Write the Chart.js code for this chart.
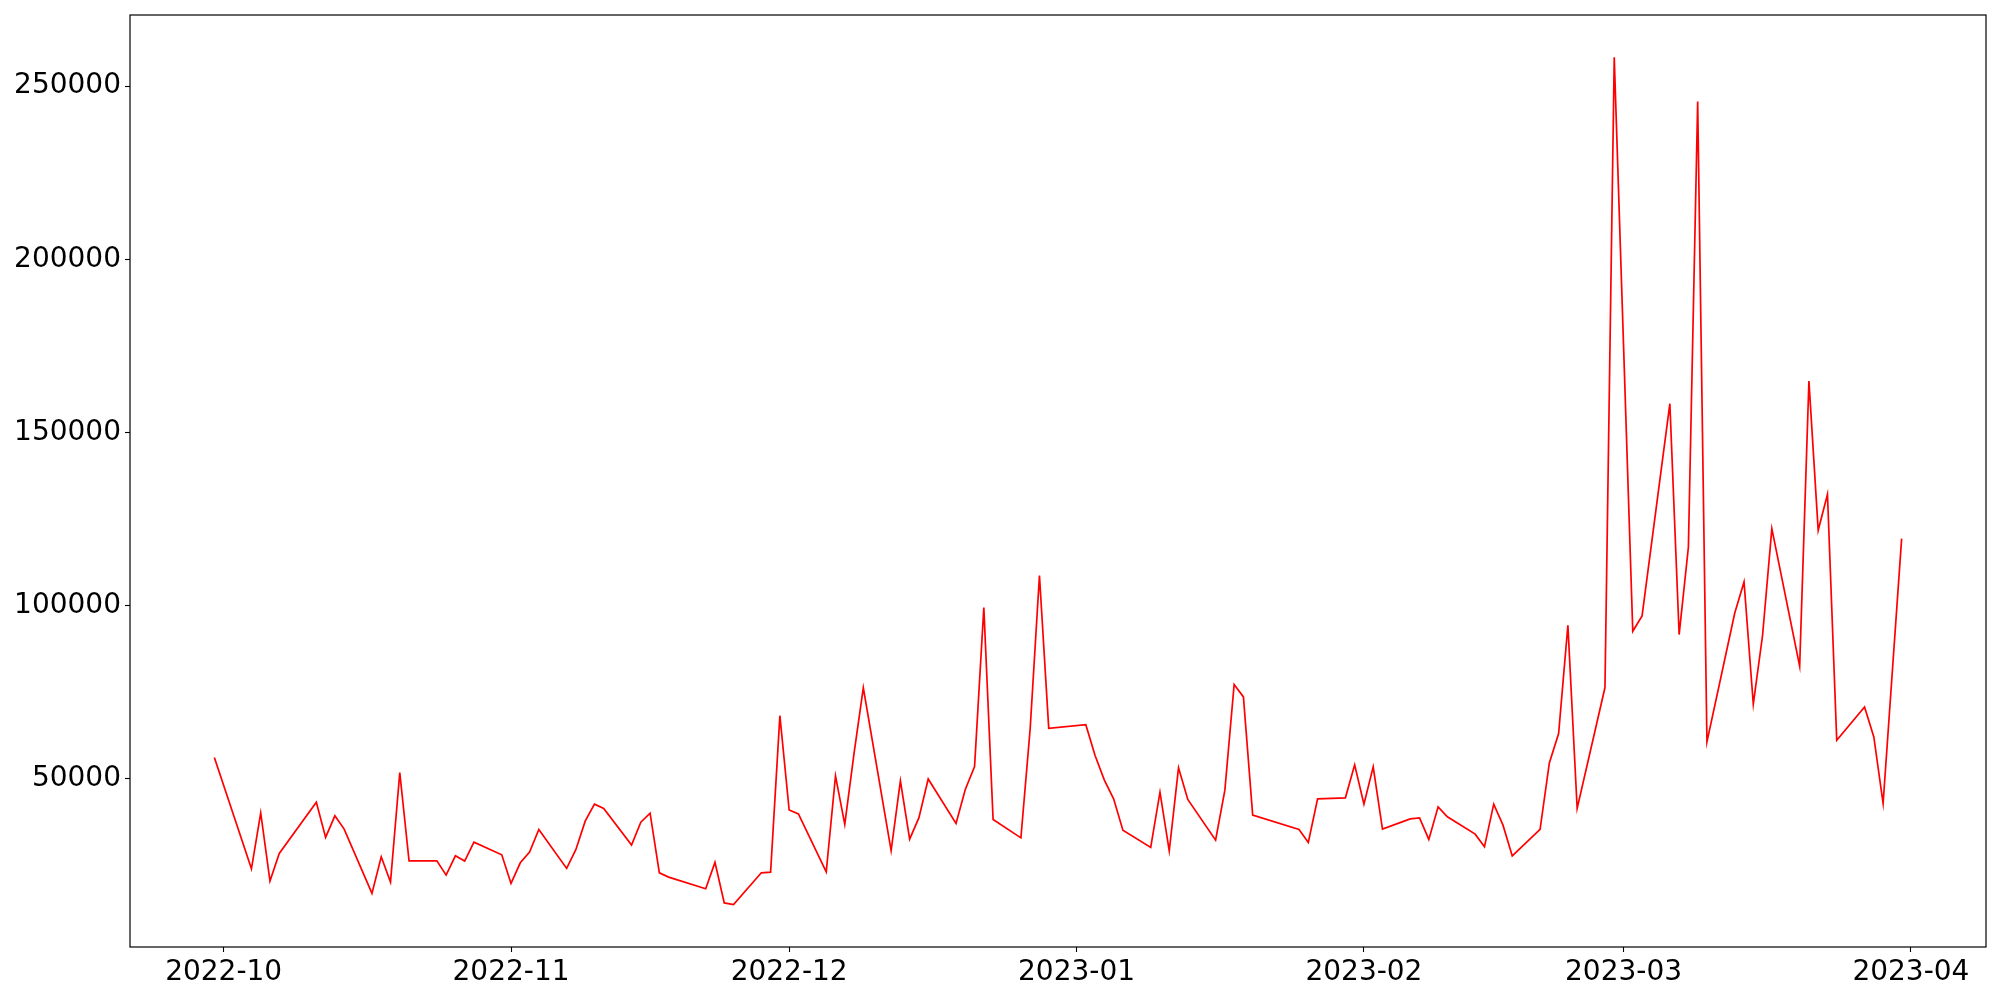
<!DOCTYPE html>
<html>
<head>
<meta charset="UTF-8" />
<script src="https://cdn.jsdelivr.net/npm/chart.js@4.4.1/dist/chart.umd.min.js"></script>
<style>
  html, body { margin: 0; padding: 0; background: #fff; }
  #wrap { width: 2000px; height: 1000px; position: relative; }
</style>
</head>
<body>
<div id="wrap"><canvas id="chart"></canvas></div>
<script>
// daily values (trading days only)
const dates = [
  "2022-09-30","2022-10-04","2022-10-05","2022-10-06","2022-10-07","2022-10-11","2022-10-12","2022-10-13","2022-10-14",
  "2022-10-17","2022-10-18","2022-10-19","2022-10-20","2022-10-21","2022-10-24","2022-10-25","2022-10-26","2022-10-27",
  "2022-10-28","2022-10-31","2022-11-01","2022-11-02","2022-11-03","2022-11-04","2022-11-07","2022-11-08","2022-11-09",
  "2022-11-10","2022-11-11","2022-11-14","2022-11-15","2022-11-16","2022-11-17","2022-11-18","2022-11-22","2022-11-23",
  "2022-11-24","2022-11-25","2022-11-28","2022-11-29","2022-11-30","2022-12-01","2022-12-02","2022-12-05","2022-12-06",
  "2022-12-07","2022-12-08","2022-12-09","2022-12-12","2022-12-13","2022-12-14","2022-12-15","2022-12-16","2022-12-19",
  "2022-12-20","2022-12-21","2022-12-22","2022-12-23","2022-12-26","2022-12-27","2022-12-28","2022-12-29","2023-01-02",
  "2023-01-03","2023-01-04","2023-01-05","2023-01-06","2023-01-09","2023-01-10","2023-01-11","2023-01-12","2023-01-13",
  "2023-01-16","2023-01-17","2023-01-18","2023-01-19","2023-01-20","2023-01-25","2023-01-26","2023-01-27","2023-01-30",
  "2023-01-31","2023-02-01","2023-02-02","2023-02-03","2023-02-06","2023-02-07","2023-02-08","2023-02-09","2023-02-10",
  "2023-02-13","2023-02-14","2023-02-15","2023-02-16","2023-02-17","2023-02-20","2023-02-21","2023-02-22","2023-02-23",
  "2023-02-24","2023-02-27","2023-02-28","2023-03-02","2023-03-03","2023-03-06","2023-03-07","2023-03-08","2023-03-09",
  "2023-03-10","2023-03-13","2023-03-14","2023-03-15","2023-03-16","2023-03-17","2023-03-20","2023-03-21","2023-03-22",
  "2023-03-23","2023-03-24","2023-03-27","2023-03-28","2023-03-29","2023-03-31"
];
const values = [
  56000, 23850, 40020, 20300, 28300, 43110, 32920, 39160, 35320,
  16750, 27320, 20010, 51690, 26160, 26160, 22030, 27610, 26080,
  31560, 27900, 19640, 25590, 28680, 35230, 23970, 29450, 37630,
  42540, 41290, 30700, 37340, 39940, 22700, 21450, 18080, 25700,
  14000, 13500, 22700, 22900, 68100, 40850, 39700, 22950, 50710,
  36700, 57180, 76150, 29100, 49270, 32430, 38640, 49800, 36960,
  46780, 53420, 99340, 38120, 32800, 64400, 108620, 64440, 65500,
  56600, 49470, 44070, 35030, 30030, 46000, 29050, 53020, 43890,
  32140, 46580, 77100, 73520, 39360, 35230, 31480, 44070, 44360,
  53890, 42540, 53310, 35320, 38290, 38580, 32340, 41760, 38870,
  33870, 30210, 42540, 36470, 27560, 35230, 54460, 62950, 94220,
  41290, 76230, 258330, 92490, 96910, 158250, 91540, 116840, 245540,
  60530, 97780, 106730, 71410, 91340, 122150, 82390, 164770, 121660,
  132060, 61020, 70630, 61970, 42740, 119260
];
const xTickLabels = ["2022-10","2022-11","2022-12","2023-01","2023-02","2023-03","2023-04"];
const yTicks = [50000, 100000, 150000, 200000, 250000];

const DAY = 86400000;
const toDay = (s) => Date.UTC(+s.slice(0, 4), +s.slice(5, 7) - 1, +s.slice(8, 10)) / DAY;
const points = dates.map((d, i) => ({ x: toDay(d), y: values[i] }));
const xTickDays = xTickLabels.map((m) => toDay(m + "-01"));

// matplotlib-like 5% margins
const xs = points.map((p) => p.x), ys = values;
const xMin = Math.min(...xs), xMax = Math.max(...xs);
const yMin = Math.min(...ys), yMax = Math.max(...ys);
const xPad = (xMax - xMin) * 0.05, yPad = (yMax - yMin) * 0.05;

const font = { family: "'DejaVu Sans', sans-serif", size: 28 };

const frame = {
  id: "frame",
  afterDraw(chart) {
    const { ctx, chartArea: a } = chart;
    ctx.save();
    ctx.strokeStyle = "#000";
    ctx.lineWidth = 1.2;
    ctx.strokeRect(a.left, a.top, a.right - a.left, a.bottom - a.top);
    ctx.restore();
  },
};

new Chart(document.getElementById("chart"), {
  type: "line",
  data: {
    datasets: [{
      data: points,
      borderColor: "#ff0000",
      borderWidth: 1.7,
      pointRadius: 0,
      tension: 0,
      fill: false,
    }],
  },
  options: {
    responsive: true,
    maintainAspectRatio: false,
    animation: false,
    events: [],
    layout: { padding: { left: 0, right: 14, top: 15, bottom: 0 } },
    plugins: { legend: { display: false }, tooltip: { enabled: false } },
    scales: {
      x: {
        type: "linear",
        min: xMin - xPad,
        max: xMax + xPad,
        afterBuildTicks: (s) => { s.ticks = xTickDays.map((v) => ({ value: v })); },
        afterFit: (s) => { s.height = 53; s.paddingLeft = 0; s.paddingRight = 0; },
        ticks: {
          color: "#000", font, padding: 4, maxRotation: 0, autoSkip: false,
          callback: (v) => xTickLabels[xTickDays.indexOf(v)] ?? "",
        },
        grid: { drawOnChartArea: false, drawTicks: true, tickLength: 5, color: "#000", tickWidth: 1.1 },
        border: { display: false },
      },
      y: {
        type: "linear",
        min: yMin - yPad,
        max: yMax + yPad,
        afterBuildTicks: (s) => { s.ticks = yTicks.map((v) => ({ value: v })); },
        afterFit: (s) => { s.width = 130; s.paddingTop = 0; s.paddingBottom = 0; },
        ticks: { color: "#000", font, padding: 4, callback: (v) => String(v) },
        grid: { drawOnChartArea: false, drawTicks: true, tickLength: 5, color: "#000", tickWidth: 1.1 },
        border: { display: false },
      },
    },
  },
  plugins: [frame],
});
</script>
</body>
</html>
